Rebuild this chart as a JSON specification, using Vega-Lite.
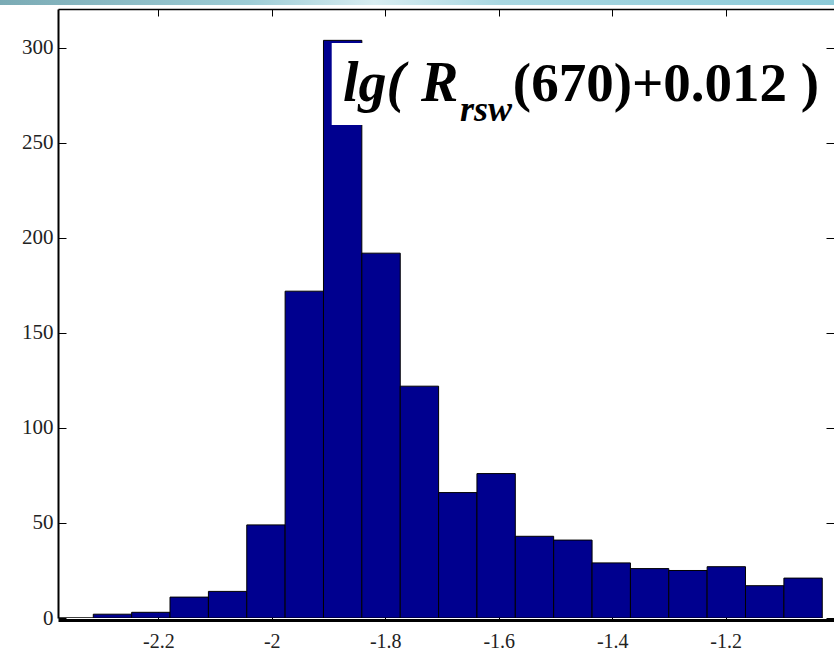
{
  "$schema": "https://vega.github.io/schema/vega-lite/v6.json",
  "width": 776,
  "height": 609,
  "autosize": {"type": "none"},
  "padding": {"left": 58, "top": 9, "right": 0, "bottom": 35},
  "background": "white",
  "config": {"view": {"stroke": null}, "axis": {"grid": false}},
  "data": {"values": [
    {"x0": -2.3822, "x1": -2.3146, "count": 0},
    {"x0": -2.3146, "x1": -2.2470, "count": 2},
    {"x0": -2.2470, "x1": -2.1794, "count": 3},
    {"x0": -2.1794, "x1": -2.1117, "count": 11},
    {"x0": -2.1117, "x1": -2.0441, "count": 14},
    {"x0": -2.0441, "x1": -1.9765, "count": 49},
    {"x0": -1.9765, "x1": -1.9089, "count": 172},
    {"x0": -1.9089, "x1": -1.8413, "count": 304},
    {"x0": -1.8413, "x1": -1.7736, "count": 192},
    {"x0": -1.7736, "x1": -1.7060, "count": 122},
    {"x0": -1.7060, "x1": -1.6384, "count": 66},
    {"x0": -1.6384, "x1": -1.5708, "count": 76},
    {"x0": -1.5708, "x1": -1.5032, "count": 43},
    {"x0": -1.5032, "x1": -1.4355, "count": 41},
    {"x0": -1.4355, "x1": -1.3679, "count": 29},
    {"x0": -1.3679, "x1": -1.3003, "count": 26},
    {"x0": -1.3003, "x1": -1.2327, "count": 25},
    {"x0": -1.2327, "x1": -1.1651, "count": 27},
    {"x0": -1.1651, "x1": -1.0974, "count": 17},
    {"x0": -1.0974, "x1": -1.0298, "count": 21}
  ]},
  "layer": [
    {
      "data": {"values": [{}]},
      "mark": {"type": "rect", "clip": false,
        "color": {"gradient": "linear", "x1": 0, "x2": 1, "y1": 0, "y2": 0,
          "stops": [
            {"offset": 0, "color": "#7aaab4"},
            {"offset": 0.3, "color": "#9dccd5"},
            {"offset": 0.45, "color": "#d8edf1"},
            {"offset": 0.6, "color": "#a9d7e1"},
            {"offset": 1, "color": "#8ccad8"}
          ]}},
      "encoding": {
        "x": {"datum": -2.49, "type": "quantitative", "axis": null},
        "x2": {"datum": -1.0},
        "y": {"datum": 322.6, "type": "quantitative", "axis": null},
        "y2": {"datum": 325.6}
      }
    },
    {
      "mark": {"type": "rect", "clip": true, "fill": "#00008f", "stroke": "black", "strokeWidth": 1},
      "encoding": {
        "x": {"field": "x0", "type": "quantitative",
          "scale": {"domain": [-2.3768, -1.0091], "nice": false, "zero": false},
          "axis": {"orient": "bottom", "title": null, "values": [-2.2, -2, -1.8, -1.6, -1.4, -1.2],
            "labelExpr": "'' + datum.value", "tickSize": -8, "tickColor": "black", "labelPadding": 19,
            "domainColor": "black", "domainWidth": 3, "offset": 2,
            "labelFont": "Liberation Serif", "labelFontSize": 20, "labelColor": "#222"}},
        "x2": {"field": "x1"},
        "y": {"field": "count", "type": "quantitative",
          "scale": {"domain": [0, 320.5], "nice": false, "zero": true},
          "axis": {"orient": "left", "title": null, "values": [0, 50, 100, 150, 200, 250, 300],
            "tickSize": -8, "tickColor": "black", "labelPadding": 13,
            "domainColor": "black", "domainWidth": 2,
            "labelFont": "Liberation Serif", "labelFontSize": 21, "labelColor": "#222"}},
        "y2": {"datum": 0}
      }
    },
    {
      "data": {"values": [{}]},
      "mark": {"type": "rect", "fill": "white"},
      "encoding": {
        "x": {"datum": -1.8944, "type": "quantitative", "axis": null},
        "x2": {"datum": -1.03},
        "y": {"datum": 259.5, "type": "quantitative", "axis": null},
        "y2": {"datum": 302.6}
      }
    },
    {
      "data": {"values": [{}]},
      "mark": {"type": "text", "text": "lg(", "font": "Liberation Serif", "fontSize": 56, "fontWeight": "bold", "fontStyle": "italic", "align": "left", "baseline": "alphabetic", "color": "black"},
      "encoding": {
        "x": {"datum": -1.8745, "type": "quantitative", "axis": null},
        "y": {"datum": 272.3, "type": "quantitative", "axis": null}
      }
    },
    {
      "data": {"values": [{}]},
      "mark": {"type": "text", "text": "R", "font": "Liberation Serif", "fontSize": 56, "fontWeight": "bold", "fontStyle": "italic", "align": "left", "baseline": "alphabetic", "color": "black"},
      "encoding": {
        "x": {"datum": -1.737, "type": "quantitative", "axis": null},
        "y": {"datum": 272.3, "type": "quantitative", "axis": null}
      }
    },
    {
      "data": {"values": [{}]},
      "mark": {"type": "text", "text": "rsw", "font": "Liberation Serif", "fontSize": 36, "fontWeight": "bold", "fontStyle": "italic", "align": "left", "baseline": "alphabetic", "color": "black"},
      "encoding": {
        "x": {"datum": -1.6683, "type": "quantitative", "axis": null},
        "y": {"datum": 261.7, "type": "quantitative", "axis": null}
      }
    },
    {
      "data": {"values": [{}]},
      "mark": {"type": "text", "text": "(670)+0.012 )", "font": "Liberation Serif", "fontSize": 55, "fontWeight": "bold", "align": "left", "baseline": "alphabetic", "color": "black"},
      "encoding": {
        "x": {"datum": -1.5751, "type": "quantitative", "axis": null},
        "y": {"datum": 272.3, "type": "quantitative", "axis": null}
      }
    },
    {
      "data": {"values": [{}]},
      "mark": {"type": "point", "opacity": 0},
      "encoding": {
        "x": {"datum": -2, "type": "quantitative",
          "axis": {"orient": "top", "title": null, "values": [-2.2, -2, -1.8, -1.6, -1.4, -1.2],
            "labels": false, "tickSize": -7, "tickColor": "black",
            "domainColor": "black", "domainWidth": 1.5}},
        "y": {"datum": 0, "type": "quantitative",
          "axis": {"orient": "right", "title": null, "values": [0, 50, 100, 150, 200, 250, 300],
            "labels": false, "tickSize": -8, "tickColor": "black", "domain": false}}
      }
    }
  ],
  "resolve": {"axis": {"x": "independent", "y": "independent"}}
}
